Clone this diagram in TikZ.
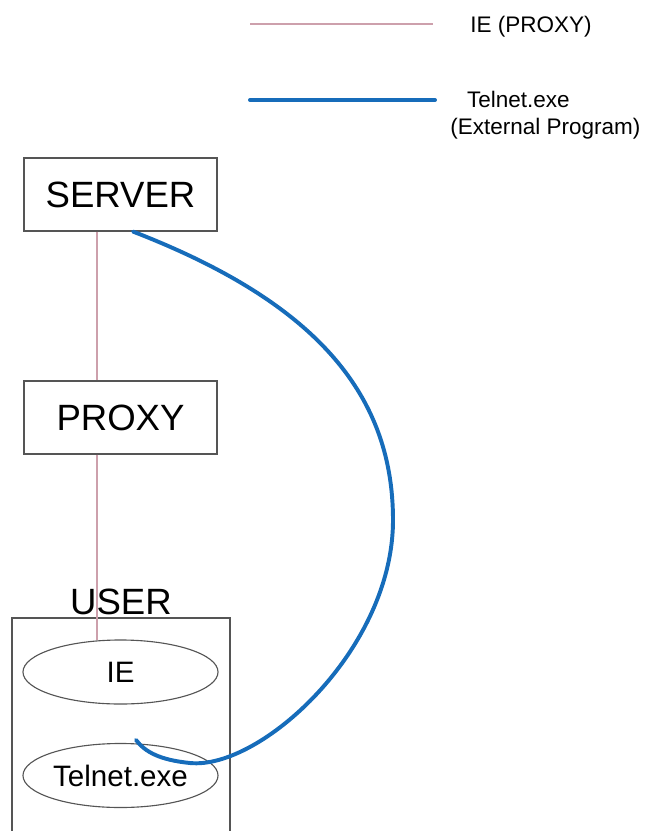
\documentclass[tikz,border=0pt]{standalone}
\usepackage{fontspec}
\setmainfont{Liberation Sans}
\usetikzlibrary{positioning,shapes.geometric,calc}
\definecolor{proxypink}{RGB}{205,160,172}
\definecolor{telblue}{RGB}{22,108,186}
\definecolor{edgegray}{RGB}{85,85,85}

\begin{document}
\begin{tikzpicture}[x=0.025cm,y=-0.025cm]
	\tikzset{
		hostbox/.style={draw=edgegray,line width=0.8pt,minimum width=4.825cm,minimum height=1.825cm,font=\fontsize{26}{30}\selectfont},
		app/.style={ellipse,draw=edgegray,line width=0.8pt,minimum width=4.875cm,minimum height=1.6cm,inner sep=0pt,font=\fontsize{21}{25}\selectfont},
		ieline/.style={draw=proxypink,line width=1.1pt},
		telline/.style={draw=telblue,line width=2.8pt,line cap=round},
		legend/.style={font=\fontsize{16}{19}\selectfont,inner sep=0pt}
	}
	\useasboundingbox (0,0) rectangle (657,831);
	% legend
	\draw[ieline] (250,24) -- (433,24);
	\node[legend,anchor=west] (ielabel) at (470,27) {IE (PROXY)};
	\draw[telline] (250,100) -- (435,100);
	\node[legend,anchor=north west,align=left] (tellabel) at (450,91) {\hspace*{0.42cm}Telnet.exe\\(External Program)};
	% hosts
	\node[hostbox] (server) at (120.5,194.5) {SERVER};
	\node[hostbox] (proxy) at (120.5,417.5) {PROXY};
	\draw[edgegray,line width=0.8pt] (12,840) -- (12,618) -- (230,618) -- (230,840);
	\node[font=\fontsize{26}{30}\selectfont,anchor=base,inner sep=0pt] (user) at (121,614) {USER};
	\node[app] (ie) at (120.5,672) {IE};
	\node[app] (telnet) at (120.5,775.5) {Telnet.exe};
	% IE path through the proxy
	\coordinate (tap) at (97,0);
	\draw[ieline] (tap |- server.south) -- (tap |- proxy.north);
	\draw[ieline] (tap |- proxy.south) -- ($(tap |- ie.north)+(0,1)$);
	% telnet goes straight to the server
	\coordinate (srvout) at ($(server.south)+(12.5,0)$);
	\coordinate (telin) at ($(telnet.north)+(15.5,-3)$);
	\draw[telline] (srvout) .. controls (310,300) and (393,390) .. (393,520)
		.. controls (393,650) and (260,770) .. (190,763)
		.. controls (160,760) and (145,752) .. (telin);
\end{tikzpicture}
\end{document}
